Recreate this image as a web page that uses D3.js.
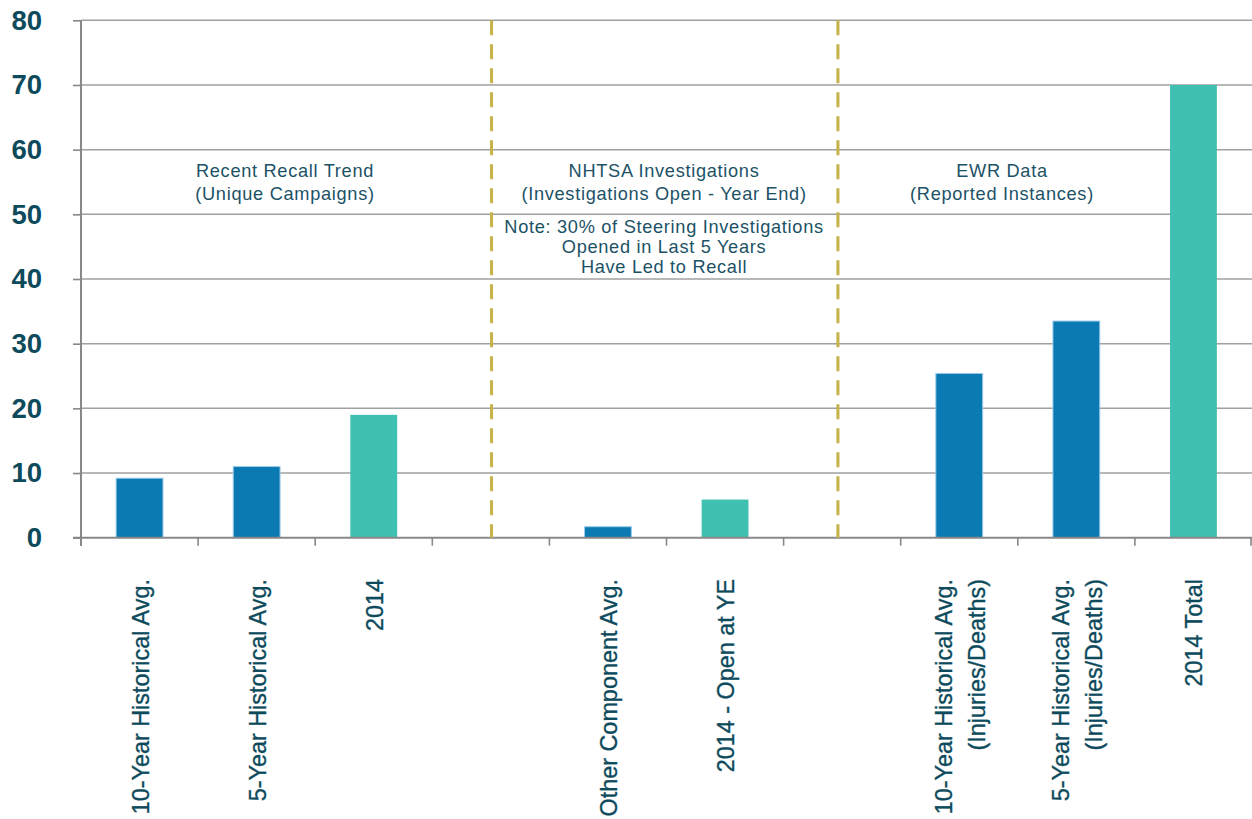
<!DOCTYPE html>
<html>
<head>
<meta charset="utf-8">
<script src="https://cdn.jsdelivr.net/npm/d3@7"></script>
<style>
  html, body { margin: 0; padding: 0; background: #ffffff; }
  svg { display: block; }
</style>
</head>
<body>
<svg id="chart" width="1252" height="819"></svg>
<script>
// ---------- data ----------
const categories = ["c1", "c2", "c3", "gap1", "c4", "c5", "gap2", "c6", "c7", "c8"];
const categoryLabels = [
  ["10-Year Historical Avg."],
  ["5-Year Historical Avg."],
  ["2014"],
  [],
  ["Other Component Avg."],
  ["2014 - Open at YE"],
  [],
  ["10-Year Historical Avg.", "(Injuries/Deaths)"],
  ["5-Year Historical Avg.", "(Injuries/Deaths)"],
  ["2014 Total"]
];
const values = [9.2, 11.0, 19.0, null, 1.7, 5.9, null, 25.4, 33.5, 70.0];
const seriesKind = ["hist", "hist", "current", null, "hist", "current", null, "hist", "hist", "current"];
const yTicks = [0, 10, 20, 30, 40, 50, 60, 70, 80];

const sectionTitles = [
  ["Recent Recall Trend", "(Unique Campaigns)"],
  ["NHTSA Investigations", "(Investigations Open - Year End)"],
  ["EWR Data", "(Reported Instances)"]
];
const noteLines = ["Note: 30% of Steering Investigations", "Opened in Last 5 Years", "Have Led to Recall"];

// ---------- layout ----------
const W = 1252, H = 819;
const plot = { left: 81, right: 1252, top: 20.3, bottom: 537.7 };
const colors = { hist: "#0b7ab3", current: "#40c0b0", histStroke: "#9ccbe8",
  text: "#0d4a5c", note: "#1c5266", grid: "#a0a0a0", axis: "#888888", sep: "#c6b246" };
// section positions in band-index units from plot left
const sectionCenters = [1.742, 4.979, 7.865];
const separatorPos = [3.506, 6.464];

const svg = d3.select("#chart");

const x = d3.scaleBand()
  .domain(categories)
  .range([plot.left, plot.right])
  .paddingInner(0.6)
  .paddingOuter(0.3);
const step = x.step();
const bandStart = d => x(d) - step * 0.3;
const idxToX = i => plot.left + i * step;

const y = d3.scaleLinear().domain([0, 80]).range([plot.bottom, plot.top]);

// gridlines
svg.append("g")
  .selectAll("line")
  .data(yTicks.filter(t => t > 0))
  .join("line")
  .attr("x1", plot.left).attr("x2", plot.right)
  .attr("y1", d => y(d)).attr("y2", d => y(d))
  .attr("stroke", colors.grid).attr("stroke-width", 1.5);

// y axis
const yAxis = svg.append("g")
  .attr("transform", `translate(${plot.left},0)`)
  .call(d3.axisLeft(y).tickValues(yTicks).tickSize(8).tickPadding(31).tickSizeOuter(0));
yAxis.select(".domain").attr("stroke", colors.axis).attr("stroke-width", 2)
  .attr("d", `M0,${plot.top}V${plot.bottom + 8}`);
yAxis.selectAll(".tick line").attr("stroke", colors.axis).attr("stroke-width", 1.6);
yAxis.selectAll(".tick text")
  .attr("fill", colors.text)
  .attr("font-family", "'Liberation Sans', Arial, sans-serif")
  .attr("font-weight", "bold")
  .attr("font-size", "27.5px");

// bars
svg.append("g")
  .selectAll("rect")
  .data(categories.map((c, i) => ({ c, v: values[i], k: seriesKind[i] })).filter(d => d.v != null))
  .join("rect")
  .attr("x", d => x(d.c))
  .attr("width", x.bandwidth())
  .attr("y", d => y(d.v))
  .attr("height", d => y(0) - y(d.v))
  .attr("fill", d => colors[d.k])
  .attr("stroke", d => d.k === "hist" ? colors.histStroke : "none")
  .attr("stroke-width", 1);

// x axis baseline + ticks
const xAxisG = svg.append("g");
xAxisG.append("line")
  .attr("x1", plot.left - 8).attr("x2", plot.right)
  .attr("y1", y(0)).attr("y2", y(0))
  .attr("stroke", colors.axis).attr("stroke-width", 2);
const tickXs = categories.map(bandStart).concat([plot.right - 1]);
xAxisG.selectAll("line.tk")
  .data(tickXs)
  .join("line")
  .attr("class", "tk")
  .attr("x1", d => d).attr("x2", d => d)
  .attr("y1", y(0)).attr("y2", y(0) + 8)
  .attr("stroke", colors.axis).attr("stroke-width", 1.6);

// category labels (rotated)
const labelTop = 579, lineGap = 33, baseOff = 9;
categories.forEach((c, i) => {
  const lines = categoryLabels[i];
  if (!lines.length) return;
  const cx = x(c) + x.bandwidth() / 2;
  lines.forEach((t, j) => {
    const bx = cx + baseOff + (j - (lines.length - 1) / 2) * lineGap;
    svg.append("text")
      .attr("transform", `translate(${bx},${labelTop}) rotate(-90)`)
      .attr("text-anchor", "end")
      .attr("fill", colors.text)
      .attr("stroke", colors.text)
      .attr("stroke-width", 0.35)
      .attr("font-family", "'Liberation Sans', Arial, sans-serif")
      .attr("font-size", "23.4px")
      .text(t);
  });
});

// separators
svg.append("g")
  .selectAll("line")
  .data(separatorPos)
  .join("line")
  .attr("x1", d => idxToX(d)).attr("x2", d => idxToX(d))
  .attr("y1", y(80)).attr("y2", y(0))
  .attr("stroke", colors.sep).attr("stroke-width", 3)
  .attr("stroke-dasharray", "15,9");

// section titles
const titleBase = [176.5, 200];
sectionTitles.forEach((lines, i) => {
  lines.forEach((t, j) => {
    svg.append("text")
      .attr("x", idxToX(sectionCenters[i]))
      .attr("y", titleBase[j])
      .attr("text-anchor", "middle")
      .attr("fill", colors.note)
      .attr("font-family", "'Liberation Sans', Arial, sans-serif")
      .attr("font-size", "18.2px")
      .attr("letter-spacing", "0.7px")
      .text(t);
  });
});
const noteBase = [233.3, 253.2, 273];
noteLines.forEach((t, j) => {
  svg.append("text")
    .attr("x", idxToX(sectionCenters[1]))
    .attr("y", noteBase[j])
    .attr("text-anchor", "middle")
    .attr("fill", colors.note)
    .attr("font-family", "'Liberation Sans', Arial, sans-serif")
    .attr("font-size", "18.2px")
    .attr("letter-spacing", "0.7px")
    .text(t);
});
</script>
</body>
</html>
